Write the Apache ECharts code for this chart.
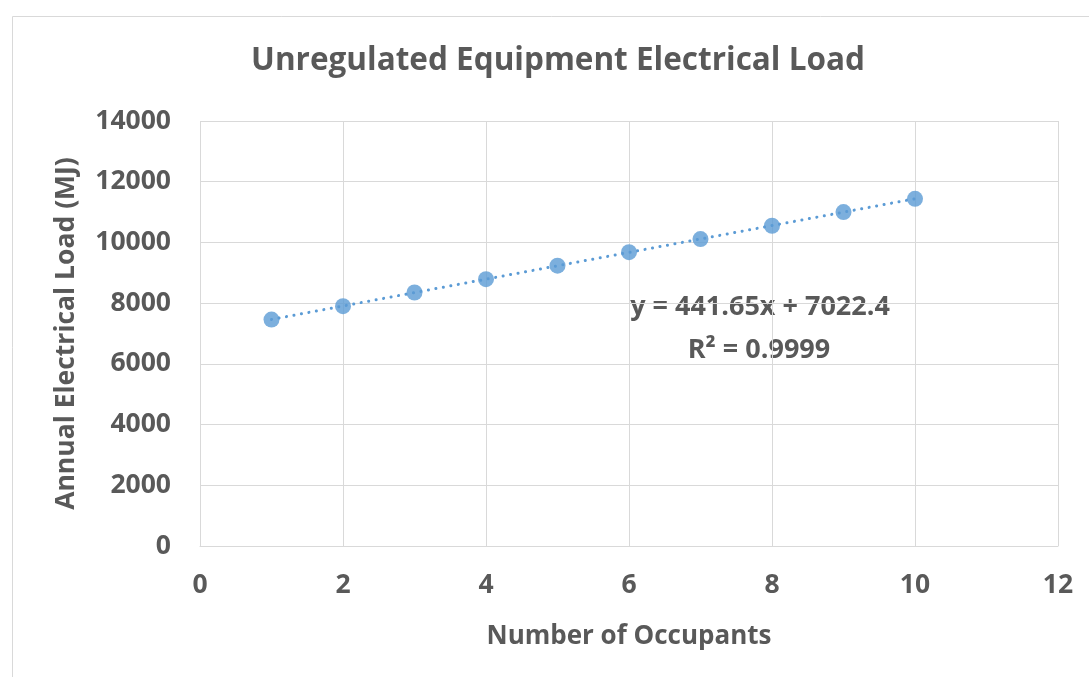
<!DOCTYPE html>
<html>
<head>
<meta charset="utf-8">
<script src="https://cdn.jsdelivr.net/npm/echarts@6/dist/echarts.min.js"></script>
<style>
  html, body { margin: 0; padding: 0; background: #fff; }
  #chart { width: 1089px; height: 677px; }
</style>
</head>
<body>
<div id="chart"></div>
<script>
// data
var occupants = [1, 2, 3, 4, 5, 6, 7, 8, 9, 10];
var loadMJ = [7460, 7900, 8350, 8790, 9235, 9680, 10110, 10550, 11000, 11435];
// trendline shown in the chart: y = 441.65x + 7022.4
var trendCoef = [441.65, 7022.4];
var trendX = [1, 10];
var xTicks = [0, 12, 2];
var yTicks = [0, 14000, 2000];

var trendData = trendX.map(function (x) { return [x, trendCoef[0] * x + trendCoef[1]]; });
var pointData = occupants.map(function (x, i) { return [x, loadMJ[i]]; });

var grey = '#595959';
var font = 'Open Sans';
var myChart = echarts.init(document.getElementById('chart'));
myChart.setOption({
  animation: false,
  title: {
    text: 'Unregulated Equipment Electrical Load',
    left: 553,
    textAlign: 'center',
    top: 40,
    textStyle: { color: grey, fontFamily: font, fontWeight: 'bold', fontSize: 31.5 }
  },
  grid: { left: 200, right: 31, top: 121, bottom: 131 },
  xAxis: {
    type: 'value',
    min: xTicks[0], max: xTicks[1], interval: xTicks[2],
    name: 'Number of Occupants',
    nameLocation: 'middle',
    nameGap: 78,
    nameTextStyle: { color: grey, fontFamily: font, fontWeight: 'bold', fontSize: 26 },
    axisLine: { show: true, lineStyle: { color: '#d9d9d9', width: 1 } },
    axisTick: { show: false },
    axisLabel: { color: grey, fontFamily: font, fontWeight: 'bold', fontSize: 26.5, margin: 26 },
    splitLine: { show: true, lineStyle: { color: '#d9d9d9', width: 1 } }
  },
  yAxis: {
    type: 'value',
    min: yTicks[0], max: yTicks[1], interval: yTicks[2],
    name: 'Annual Electrical Load (MJ)',
    nameLocation: 'middle',
    nameGap: 120,
    nameTextStyle: { color: grey, fontFamily: font, fontWeight: 'bold', fontSize: 26.5 },
    axisLine: { show: false },
    axisTick: { show: false },
    axisLabel: {
      color: grey, fontFamily: font, fontWeight: 'bold', fontSize: 26.5, margin: 29,
      formatter: function (v) { return String(v); }
    },
    splitLine: { show: true, lineStyle: { color: '#d9d9d9', width: 1 } }
  },
  series: [
    {
      type: 'line',
      data: trendData,
      symbol: 'none',
      lineStyle: { color: '#5b9bd5', width: 3, type: [0.1, 7.5], cap: 'round' },
      z: 2
    },
    {
      type: 'scatter',
      data: pointData,
      symbol: 'circle',
      symbolSize: 16,
      itemStyle: { color: '#5b9bd5' },
      z: 3
    }
  ],
  graphic: [
    {
      type: 'rect',
      shape: { x: 12.5, y: 16.5, width: 1100, height: 700 },
      style: { fill: null, stroke: '#d9d9d9', lineWidth: 1 },
      silent: true
    },
    {
      type: 'text', x: 760, y: 307,
      style: { text: 'y = 441.65x + 7022.4', fill: grey, font: 'bold 27px "Open Sans"', textAlign: 'center', textVerticalAlign: 'middle' }
    },
    {
      type: 'text', x: 759, y: 350,
      style: { text: 'R² = 0.9999', fill: grey, font: 'bold 27px "Open Sans"', textAlign: 'center', textVerticalAlign: 'middle' }
    }
  ]
});
window.addEventListener('resize', function () { myChart.resize(); });
</script>
</body>
</html>
